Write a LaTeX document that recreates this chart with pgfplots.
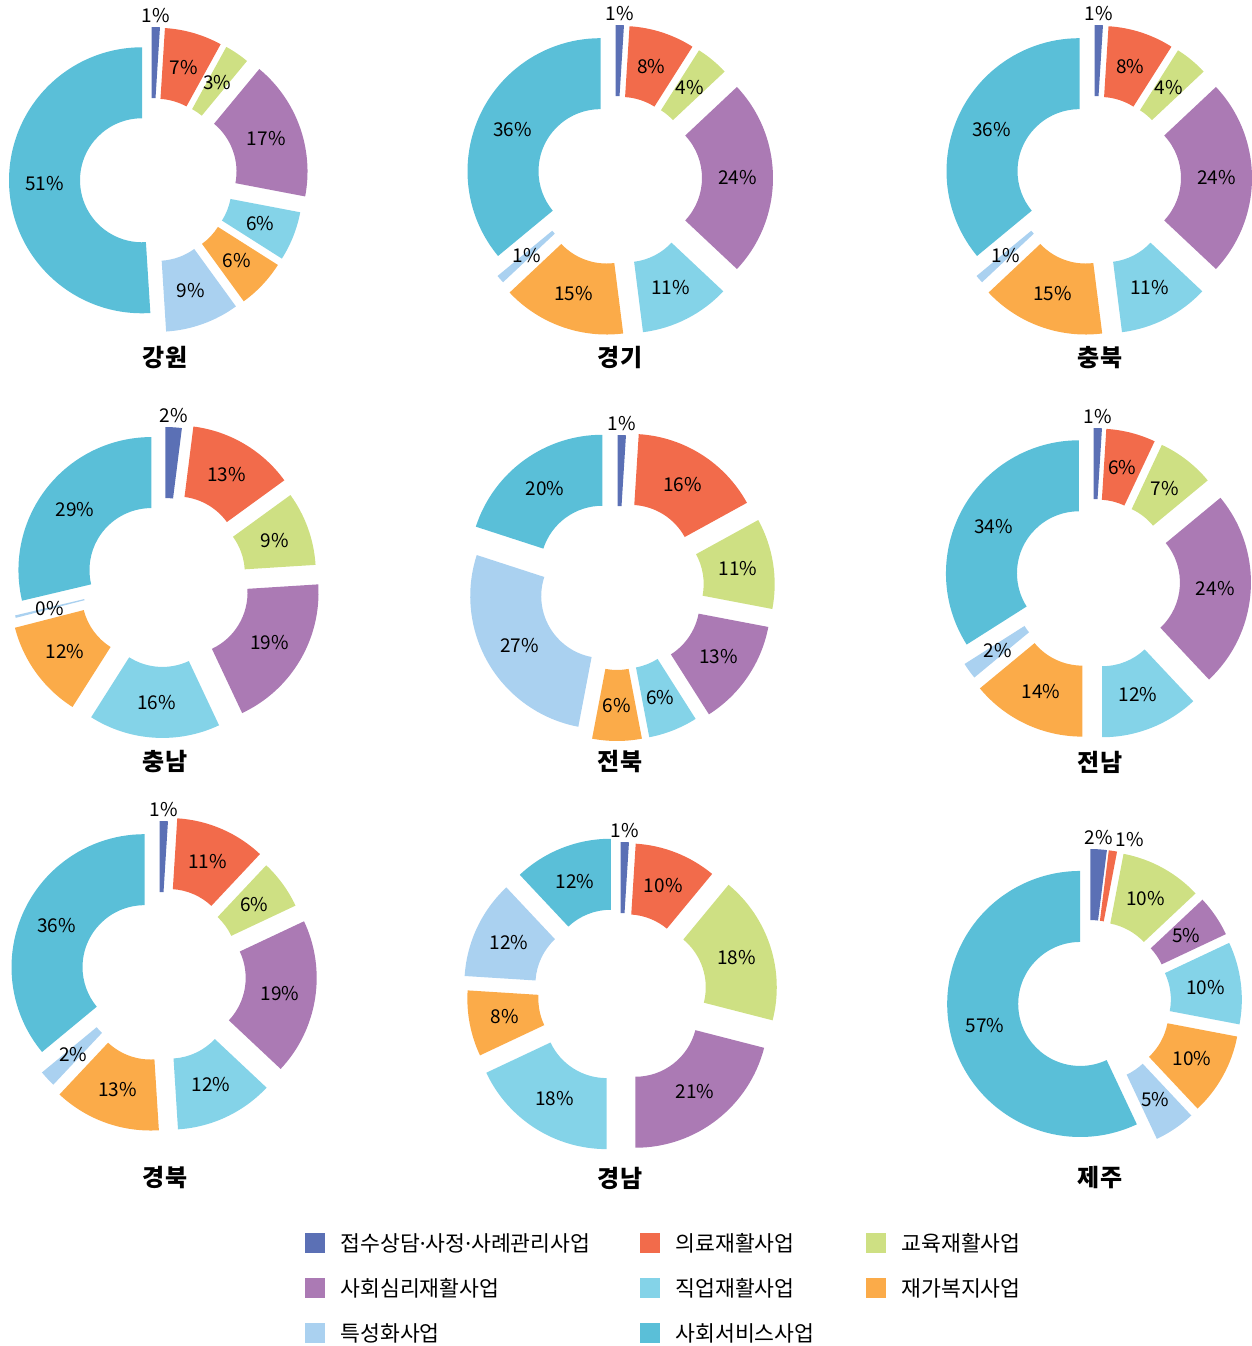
\documentclass[border=0pt]{standalone}
\usepackage{pgfplots}
\pgfplotsset{compat=1.18}
\usepackage{fontspec}
\setmainfont{Noto Sans CJK KR}
\newfontfamily\latinf{Noto Sans}
\definecolor{c1}{HTML}{5B70B5}
\definecolor{c2}{HTML}{F26B4B}
\definecolor{c3}{HTML}{CEE083}
\definecolor{c4}{HTML}{AB7AB4}
\definecolor{c5}{HTML}{84D3E8}
\definecolor{c6}{HTML}{FBAB49}
\definecolor{c7}{HTML}{AAD1F0}
\definecolor{c8}{HTML}{5ABFD8}
\newcommand{\Rout}{133}
\newcommand{\Rin}{62}
\newcommand{\labfont}{\fontsize{9.5}{11}\selectfont}
\newcommand{\titfont}{\fontsize{12}{14}\selectfont\bfseries}
\newcommand{\legfont}{\fontsize{10.8}{13}\selectfont}
% #1 cx px, #2 cy px (from top), #3 list value/label-mode, #4 title, #5 title x, #6 title y
\newcommand{\donut}[6]{%
  \foreach \val/\fl [count=\i, remember=\cnext as \cum (initially 0)] in {#3} {%
    \pgfmathsetmacro{\cnext}{\cum+\val}%
    \pgfmathsetmacro{\aS}{90-3.6*\cum}%
    \pgfmathsetmacro{\aE}{90-3.6*\cnext}%
    \pgfmathsetmacro{\aM}{(\aS+\aE)/2}%
    \pgfmathsetmacro{\dd}{\val<=10 ? 20 : (\val<=25 ? 25 : (\val<=40 ? 16 : 9))}%
    \pgfmathsetmacro{\sx}{#1+\dd*cos(\aM)}%
    \pgfmathsetmacro{\sy}{1346-#2+\dd*sin(\aM)}%
    \pgfmathsetmacro{\oxS}{\sx+\Rout*cos(\aS)}%
    \pgfmathsetmacro{\oyS}{\sy+\Rout*sin(\aS)}%
    \pgfmathsetmacro{\ixE}{\sx+\Rin*cos(\aE)}%
    \pgfmathsetmacro{\iyE}{\sy+\Rin*sin(\aE)}%
    \pgfmathtruncatemacro{\lab}{round(\val)}%
    \ifcase\fl
      \pgfmathsetmacro{\lr}{(\Rout+\Rin)/2+\dd}\def\anc{center}%
    \or
      \pgfmathsetmacro{\lr}{\Rout+\dd+2}\def\anc{south}%
    \or
      \pgfmathsetmacro{\lr}{\Rout+\dd+2}\def\anc{south west}%
    \fi
    \pgfmathsetmacro{\lx}{#1+\lr*cos(\aM)}%
    \pgfmathsetmacro{\ly}{1346-#2+\lr*sin(\aM)}%
    \edef\temp{\noexpand\fill[c\i] (axis cs:\oxS,\oyS) arc[start angle=\aS, end angle=\aE, radius=66.5pt] -- (axis cs:\ixE,\iyE) arc[start angle=\aE, end angle=\aS, radius=31pt] -- cycle;
      \noexpand\node[anchor=\anc, inner sep=1pt, font=\noexpand\labfont] at (axis cs:\lx,\ly) {\lab\noexpand\%};}%
    \temp
  }%
  \pgfmathsetmacro{\tyy}{1346-#6}%
  \edef\temp{\noexpand\node[font=\noexpand\titfont] at (axis cs:#5,\tyy) {#4};}%
  \temp
}
\newcommand{\legitem}[4]{% x px, y px, color, text
  \pgfmathsetmacro{\ya}{1346-#2-10}%
  \pgfmathsetmacro{\yb}{1346-#2+10}%
  \pgfmathsetmacro{\xb}{#1+20}%
  \pgfmathsetmacro{\xt}{#1+35}%
  \pgfmathsetmacro{\yt}{1346-#2}%
  \edef\temp{\noexpand\fill[#3] (axis cs:#1,\ya) rectangle (axis cs:\xb,\yb);
    \noexpand\node[anchor=west, inner sep=0pt, font=\noexpand\legfont] at (axis cs:\xt,\yt) {\unexpanded{#4}};}%
  \temp
}
\begin{document}
\begin{tikzpicture}
\begin{axis}[
  at={(0,0)}, anchor=south west,
  width=626pt, height=673pt, scale only axis,
  xmin=0, xmax=1252, ymin=0, ymax=1346,
  hide axis, clip=false]
\donut{151}{180}{1/1,7/0,3/0,17/0,6/0,6/0,9/0,51/0}{강원}{165}{358}
\donut{615}{178}{1/1,8/0,4/0,24/0,11/0,15/0,1/0,36/0}{경기}{620}{358}
\donut{1094}{178}{1/1,8/0,4/0,24/0,11/0,15/0,1/0,36/0}{충북}{1100}{358}
\donut{164}{580}{2/1,13/0,9/0,19/0,16/0,12/0,0.3/0,28.7/0}{충남}{165}{762}
\donut{617}{588}{1/1,16/0,11/0,13/0,6/0,6/0,27/0,20/0}{전북}{620}{762}
\donut{1093}{581}{1/1,6/0,7/0,24/0,12/0,14/0,2/0,34/0}{전남}{1100}{762}
\donut{159}{974}{1/1,11/0,6/0,19/0,12/0,13/0,2/0,36/0}{경북}{165}{1178}
\donut{620}{995}{1/1,10/0,18/0,21/0,18/0,8/0,12/0,12/0}{경남}{620}{1178}
\donut{1089}{1002}{2/1,1/2,10/0,5/0,10/0,10/0,5/0,57/0}{제주}{1100}{1178}
\legitem{305}{1243}{c1}{접수상담{\latinf ·}사정{\latinf ·}사례관리사업}
\legitem{640}{1243}{c2}{의료재활사업}
\legitem{866}{1243}{c3}{교육재활사업}
\legitem{305}{1288}{c4}{사회심리재활사업}
\legitem{640}{1288}{c5}{직업재활사업}
\legitem{866}{1288}{c6}{재가복지사업}
\legitem{305}{1333}{c7}{특성화사업}
\legitem{640}{1333}{c8}{사회서비스사업}
\end{axis}
\pgfresetboundingbox
\useasboundingbox (0,0) rectangle (626pt,673pt);
\end{tikzpicture}
\end{document}
